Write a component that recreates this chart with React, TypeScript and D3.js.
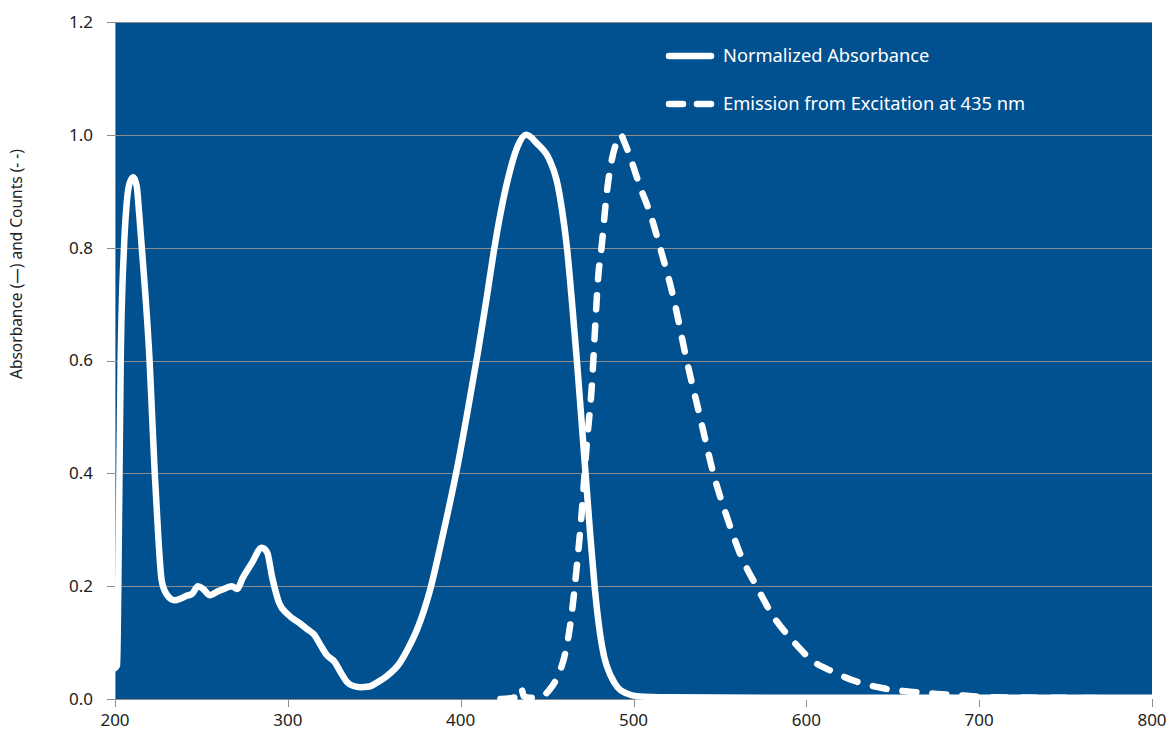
import React from 'react';
import * as d3 from 'd3';

// absorbance spectrum (nm, normalized)
const absNm = [200, 201.2, 201.9, 203.3, 205.2, 206.8, 208.5, 210.6, 212.5, 214, 215.5, 217.5, 220, 221.5, 223, 225, 227, 230, 234.5, 238, 241.5, 244.5, 248, 251, 255, 259, 263, 267.5, 270.5, 274, 279, 285, 288, 291, 295, 300, 307, 312, 315, 319, 322.5, 327, 331, 334, 338, 342, 347, 352, 357, 365, 370, 375, 382, 390, 398, 404, 410, 415, 419, 423, 428, 433, 438, 444, 451.5, 455.5, 458.5, 461.5, 464.5, 467.5, 470, 472.5, 475, 477.5, 480, 483, 487, 491, 496, 502, 520, 600, 700, 800];
const absVal = [0.055, 0.06, 0.2, 0.6, 0.8, 0.88, 0.915, 0.925, 0.91, 0.86, 0.8, 0.72, 0.6, 0.5, 0.4, 0.29, 0.21, 0.185, 0.175, 0.178, 0.183, 0.186, 0.2, 0.195, 0.184, 0.19, 0.195, 0.2, 0.195, 0.215, 0.24, 0.268, 0.26, 0.215, 0.17, 0.15, 0.134, 0.122, 0.115, 0.095, 0.078, 0.066, 0.045, 0.031, 0.023, 0.021, 0.022, 0.03, 0.04, 0.065, 0.092, 0.125, 0.19, 0.295, 0.41, 0.51, 0.615, 0.71, 0.79, 0.86, 0.93, 0.98, 1.0, 0.985, 0.955, 0.92, 0.87, 0.8, 0.7, 0.59, 0.49, 0.39, 0.29, 0.2, 0.13, 0.075, 0.04, 0.02, 0.01, 0.005, 0.003, 0.002, 0.002, 0.002];

// emission after excitation at 435 nm
const emNm = [423, 430, 433, 435, 436.5, 440, 445, 448, 451, 454.5, 457.5, 460, 462.3, 464.2, 467, 470, 473, 476, 477.6, 479.6, 481.5, 484.5, 487.4, 490, 492.5, 495, 498, 503.8, 509.6, 515.4, 523, 530.8, 538.5, 546.2, 554, 561.6, 571.3, 581, 592.5, 603, 615.6, 629, 644.6, 660, 675.4, 691, 710, 750, 800];
const emVal = [0, 0.002, 0.005, 0.02, 0.005, 0.002, 0.003, 0.006, 0.015, 0.03, 0.05, 0.075, 0.11, 0.15, 0.229, 0.329, 0.453, 0.56, 0.648, 0.749, 0.8, 0.896, 0.955, 0.985, 1.0, 0.985, 0.961, 0.908, 0.861, 0.8, 0.713, 0.6, 0.5, 0.4, 0.323, 0.258, 0.199, 0.146, 0.102, 0.069, 0.048, 0.031, 0.019, 0.013, 0.009, 0.006, 0.003, 0.002, 0.001];

const yTicks = [0, 0.2, 0.4, 0.6, 0.8, 1.0, 1.2];
const xTicks = [200, 300, 400, 500, 600, 700, 800];
const seriesNames = ['Normalized Absorbance', 'Emission from Excitation at 435 nm'];
const yTitle = 'Absorbance (\u2014) and Counts (- -)';

const W = 1169, H = 734;
const margin = { top: 22, right: 17, bottom: 35, left: 115 };
const font = '"Noto Sans", sans-serif';
const bg = '#01508f';

export default function App() {
  const x = d3.scaleLinear().domain([200, 800]).range([margin.left, W - margin.right]);
  const y = d3.scaleLinear().domain([0, 1.2]).range([H - margin.bottom, margin.top]);

  const line = d3.line<[number, number]>()
    .x(d => x(d[0]))
    .y(d => y(d[1]))
    .curve(d3.curveMonotoneX);

  const absPath = line(absNm.map((n, i) => [n, absVal[i]]) as [number, number][]) || '';
  const emPath = line(emNm.map((n, i) => [n, emVal[i]]) as [number, number][]) || '';

  const x0 = x(200), x1 = x(800), y0 = y(0), y1 = y(1.2);

  return (
    <svg width={W} height={H} style={{ position: 'absolute', left: 0, top: 0, fontFamily: font }}>
      <defs>
        <clipPath id="plot">
          <rect x={x0} y={y1} width={x1 - x0} height={y0 - y1 + 1} />
        </clipPath>
      </defs>
      <rect x={x0} y={y1} width={x1 - x0} height={y0 - y1} fill={bg} />

      {/* gridlines */}
      {yTicks.filter(t => t > 0).map(t => (
        <line key={t} x1={x0} x2={x1} y1={Math.round(y(t)) + 0.5} y2={Math.round(y(t)) + 0.5} stroke="#8c8c8c" strokeWidth={1} />
      ))}

      {/* axes */}
      <line x1={x0 + 0.5} x2={x0 + 0.5} y1={y1} y2={y0} stroke="#8c8c8c" />
      <line x1={x0} x2={x1} y1={y0 + 0.5} y2={y0 + 0.5} stroke="#8c8c8c" />
      {yTicks.map(t => (
        <g key={t}>
          <line x1={x0 - 8} x2={x0} y1={Math.round(y(t)) + 0.5} y2={Math.round(y(t)) + 0.5} stroke="#8c8c8c" />
          <text x={x0 - 22} y={y(t)} dy="0.35em" textAnchor="end" fontSize={17} fill="#222">{t.toFixed(1)}</text>
        </g>
      ))}
      {xTicks.map(t => (
        <g key={t}>
          <line x1={Math.round(x(t)) + 0.5} x2={Math.round(x(t)) + 0.5} y1={y0} y2={y0 + 8} stroke="#8c8c8c" />
          <text x={x(t)} y={y0 + 27} textAnchor="middle" fontSize={17} fill="#222">{t}</text>
        </g>
      ))}
      <text transform="translate(22, 264) rotate(-90)" textAnchor="middle" fontSize={15.5} fill="#222">{yTitle}</text>

      {/* series */}
      <g clipPath="url(#plot)">
        <path d={absPath} fill="none" stroke="#fff" strokeWidth={6.5} strokeLinejoin="round" strokeLinecap="round" />
        <path d={emPath} fill="none" stroke="#fff" strokeWidth={6.5} strokeDasharray="14,16" strokeLinecap="round" strokeLinejoin="round" />
      </g>

      {/* legend */}
      <g fill="#fff" fontSize={18.3}>
        <line x1={669} x2={711} y1={56} y2={56} stroke="#fff" strokeWidth={6.5} strokeLinecap="round" />
        <text x={723} y={56} dy="0.35em">{seriesNames[0]}</text>
        <line x1={669} x2={711} y1={104} y2={104} stroke="#fff" strokeWidth={6.5} strokeLinecap="round" strokeDasharray="14,14" />
        <text x={723} y={104} dy="0.35em">{seriesNames[1]}</text>
      </g>
    </svg>
  );
}
